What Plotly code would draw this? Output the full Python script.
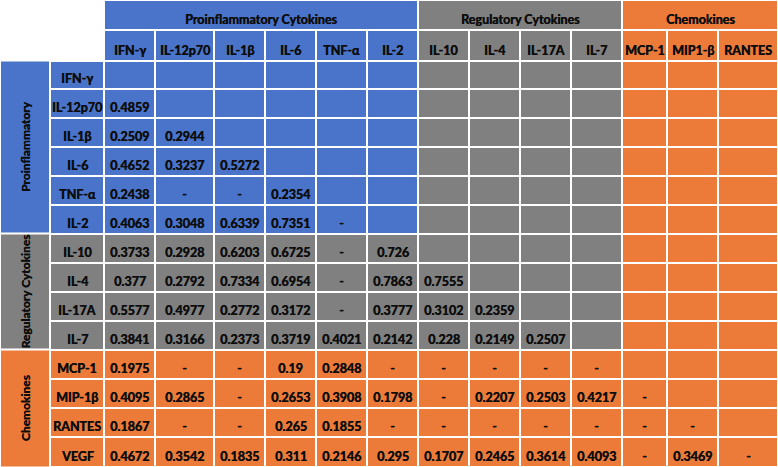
import numpy as np
import plotly.graph_objects as go

# ---------------- data ----------------
group_names = ["Proinflammatory Cytokines", "Regulatory Cytokines", "Chemokines"]
row_group_names = ["Proinflammatory", "Regulatory Cytokines", "Chemokines"]
row_labels = ["IFN-γ", "IL-12p70", "IL-1β", "IL-6", "TNF-α", "IL-2",
              "IL-10", "IL-4", "IL-17A", "IL-7",
              "MCP-1", "MIP-1β", "RANTES", "VEGF"]
row_groups = [0, 0, 0, 0, 0, 0, 1, 1, 1, 1, 2, 2, 2, 2]
col_labels = ["IFN-γ", "IL-12p70", "IL-1β", "IL-6", "TNF-α", "IL-2",
              "IL-10", "IL-4", "IL-17A", "IL-7",
              "MCP-1", "MIP1-β", "RANTES"]
col_groups = [0, 0, 0, 0, 0, 0, 1, 1, 1, 1, 2, 2, 2]

values = [
    [],
    ["0.4859"],
    ["0.2509", "0.2944"],
    ["0.4652", "0.3237", "0.5272"],
    ["0.2438", "-", "-", "0.2354"],
    ["0.4063", "0.3048", "0.6339", "0.7351", "-"],
    ["0.3733", "0.2928", "0.6203", "0.6725", "-", "0.726"],
    ["0.377", "0.2792", "0.7334", "0.6954", "-", "0.7863", "0.7555"],
    ["0.5577", "0.4977", "0.2772", "0.3172", "-", "0.3777", "0.3102", "0.2359"],
    ["0.3841", "0.3166", "0.2373", "0.3719", "0.4021", "0.2142", "0.228", "0.2149", "0.2507"],
    ["0.1975", "-", "-", "0.19", "0.2848", "-", "-", "-", "-", "-"],
    ["0.4095", "0.2865", "-", "0.2653", "0.3908", "0.1798", "-", "0.2207", "0.2503", "0.4217", "-"],
    ["0.1867", "-", "-", "0.265", "0.1855", "-", "-", "-", "-", "-", "-", "-"],
    ["0.4672", "0.3542", "0.1835", "0.311", "0.2146", "0.295", "0.1707", "0.2465",
     "0.3614", "0.4093", "-", "0.3469", "-"],
]

# ---------------- layout / style ----------------
W, H = 778, 467
col_widths = [50, 54, 51, 59, 51, 51, 51, 51, 51, 51, 51, 51, 45, 51, 60]
row_heights = [30, 30.5, 28.5, 28.5] + [29] * 11 + [30.5]
group_colors = ["#4A74C9", "#808080", "#EC7B3A"]
FONT = "Lato"
FS = 12.5
TXT = "#0d0d0d"
SHADOW = "0.45px 0 0 #0d0d0d"

xe = np.concatenate([[0], np.cumsum(col_widths)])
ye = np.concatenate([[0], np.cumsum(row_heights)])

colorscale = [[0, group_colors[0]], [0.5, group_colors[1]], [1, group_colors[2]]]

fig = go.Figure()

# main grid: column header row + data rows, row-label col + data cols
nr, nc = len(row_labels), len(col_labels)
z = [[None] + [g for g in col_groups]]
for r in range(nr):
    z.append([row_groups[r]] + [max(row_groups[r], col_groups[c]) for c in range(nc)])

fig.add_trace(go.Heatmap(
    z=z, x=xe[1:], y=ye[1:], zmin=0, zmax=2, colorscale=colorscale,
    showscale=False, xgap=2, ygap=2, hoverinfo="skip"))

# top group band
ncg = [col_groups.count(g) for g in range(3)]
band_x = [xe[2]]
for g, n in enumerate(ncg):
    start = 2 + sum(ncg[:g])
    band_x.append(band_x[-1] + sum(col_widths[start:start + n]))
fig.add_trace(go.Heatmap(
    z=[[0, 1, 2]], x=band_x, y=[ye[0], ye[1]], zmin=0, zmax=2, colorscale=colorscale,
    showscale=False, xgap=2, ygap=2, hoverinfo="skip"))

# left group band
nrg = [row_groups.count(g) for g in range(3)]
band_y = [ye[2]]
for g, n in enumerate(nrg):
    start = 2 + sum(nrg[:g])
    band_y.append(band_y[-1] + sum(row_heights[start:start + n]))
fig.add_trace(go.Heatmap(
    z=[[0], [1], [2]], x=[xe[0], xe[1]], y=band_y, zmin=0, zmax=2, colorscale=colorscale,
    showscale=False, xgap=2, ygap=2, hoverinfo="skip"))

ann = []
def label(x, y, text, angle=0, yanchor="bottom", size=FS):
    ann.append(dict(x=x, y=y, xref="x", yref="y", text=text, showarrow=False,
                    xanchor="center", yanchor=yanchor, textangle=angle,
                    font=dict(family=FONT, size=size, color=TXT, weight="bold",
                              shadow=SHADOW)))

# group headers (top)
for g in range(3):
    label((band_x[g] + band_x[g + 1]) / 2, ye[1] - 1, group_names[g])
# group headers (left, rotated)
for g in range(3):
    label((xe[0] + xe[1]) / 2, (band_y[g] + band_y[g + 1]) / 2, row_group_names[g],
          angle=-90, yanchor="middle", size=FS - 0.5)
# column headers
for c in range(nc):
    label((xe[c + 2] + xe[c + 3]) / 2, ye[2] - 1, col_labels[c])
# row headers and values
for r in range(nr):
    yb = ye[r + 3] - 1
    label((xe[1] + xe[2]) / 2, yb, row_labels[r])
    for c, v in enumerate(values[r]):
        if v:
            label((xe[c + 2] + xe[c + 3]) / 2, yb, v)

fig.update_layout(
    width=W, height=H, margin=dict(l=0, r=0, t=0, b=0),
    paper_bgcolor="white", plot_bgcolor="white",
    xaxis=dict(range=[0, W], visible=False, fixedrange=True),
    yaxis=dict(range=[H, 0], visible=False, fixedrange=True),
    annotations=ann, showlegend=False)

fig.write_html("out.html", config={"displayModeBar": False, "staticPlot": True},
               post_script="document.body.style.margin='0';document.body.style.overflow='hidden';")
